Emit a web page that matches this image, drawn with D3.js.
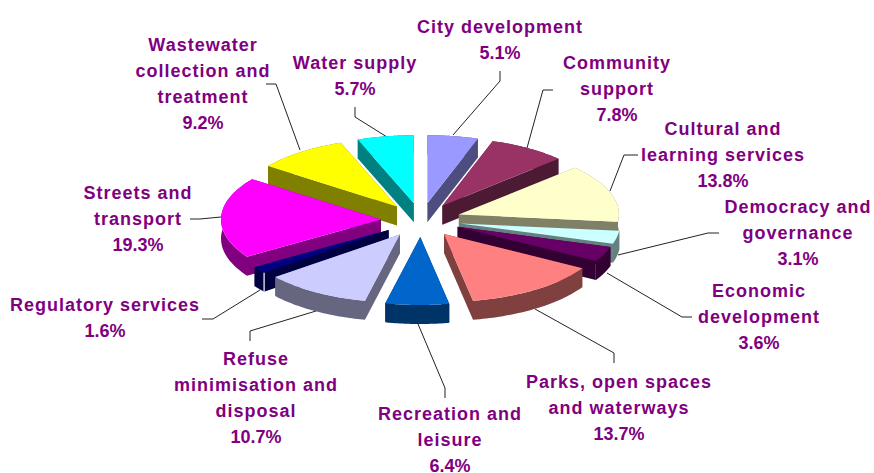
<!DOCTYPE html>
<html><head><meta charset="utf-8">
<script src="https://cdn.jsdelivr.net/npm/d3@7/dist/d3.min.js"></script>
<style>html,body{margin:0;padding:0;background:#fff}svg{display:block}</style>
</head><body><svg id="c" width="874" height="473"></svg>
<script>
const categories = [
 ["City development"],["Community","support"],["Cultural and","learning services"],
 ["Democracy and","governance"],["Economic","development"],["Parks, open spaces","and waterways"],
 ["Recreation and","leisure"],["Refuse","minimisation and","disposal"],["Regulatory services"],
 ["Streets and","transport"],["Wastewater","collection and","treatment"],["Water supply"]];
const values = [5.1,7.8,13.8,3.1,3.6,13.7,6.4,10.7,1.6,19.3,9.2,5.7];
const topColors = ["#9999FF","#993366","#FFFFCC","#CCFFFF","#660066","#FF8080","#0066CC","#CCCCFF","#000080","#FF00FF","#FFFF00","#00FFFF"];
const sideColors = ["#4D4D80","#4D1A33","#808066","#668080","#330033","#804040","#003366","#666680","#000040","#800080","#808000","#008080"];
// layout: label centre x / first-line baseline y, and leader polylines
const labelAnchors = [[500,33],[617,69],[723,135],[798,213],[759,297],[619,388],[450,420],[256,365],[105,311],[138,199],[203,51],[355,69]];
const leaders = [
 [[500,71],[500,81],[453,135]],[[553,90],[543,90],[527,148]],[[638,155],[624,155],[610,191]],
 [[719,233],[708,233],[618,255]],[[692,317],[682,317],[607,273]],[[614,363],[614,353],[535,309]],
 [[445,398],[445,388],[418,324]],[[250,341],[250,331],[316,311]],[[202,319],[213,319],[260,290]],
 [[190,219],[200,219],[221,217]],[[266,84],[276,84],[300,150]],[[355,107],[355,117],[387,137]]];

const svg = d3.select("#c");
const cx=421, cy=220, rx=160, ry=68, depth=19, explode=0.25;
const arcs = d3.pie().sort(null).value(d=>d).startAngle(0).endAngle(2*Math.PI)(values);
const line = d3.line();
svg.append("g").attr("stroke","#222").attr("stroke-width",1).attr("fill","none")
  .selectAll("path").data(leaders).join("path").attr("d",d=>line(d));

const P=(a,r,ox,oy)=>[ox+r*rx*Math.sin(a), oy-r*ry*Math.cos(a)];
const order = arcs.map((d,i)=>({d,i,mid:(d.startAngle+d.endAngle)/2}))
  .sort((a,b)=>Math.cos(b.mid)-Math.cos(a.mid));
const g = svg.append("g");
order.forEach(({d,i,mid})=>{
  const [ox,oy]=P(mid,explode,cx,cy);
  const angs=d3.range(0,41).map(k=>d.startAngle+(d.endAngle-d.startAngle)*k/40);
  const rim=angs.map(a=>P(a,1,ox,oy));
  const down=p=>[p[0],p[1]+depth];
  const top=[[ox,oy],...rim];
  const s=g.append("g");
  s.append("path").attr("d",line([[ox,oy],rim[0],down(rim[0]),[ox,oy+depth]])+"Z").attr("fill",sideColors[i]);
  s.append("path").attr("d",line([[ox,oy],rim[40],down(rim[40]),[ox,oy+depth]])+"Z").attr("fill",sideColors[i]);
  s.append("path").attr("d",line([...rim,...rim.map(down).reverse()])+"Z").attr("fill",sideColors[i]);
  s.append("path").attr("d",line(top)+"Z").attr("fill",topColors[i]);
  if(values[i]<2) s.append("path").attr("d",line([rim[0],down(rim[0])])).attr("stroke","#fff").attr("stroke-width",1.2).attr("fill","none");
});
const fmt=v=>v.toFixed(1)+"%";
const t=svg.append("g").attr("font-family","'Liberation Sans',Arial,sans-serif").attr("font-weight","700")
  .attr("font-size",18).attr("fill","#800080").attr("text-anchor","middle");
categories.forEach((lines,i)=>{
  const [x,y]=labelAnchors[i];
  lines.forEach((s,k)=>t.append("text").attr("x",x).attr("y",y+k*26).attr("letter-spacing",1).text(s));
  t.append("text").attr("x",x).attr("y",y+lines.length*26).text(fmt(values[i]));
});
</script></body></html>
